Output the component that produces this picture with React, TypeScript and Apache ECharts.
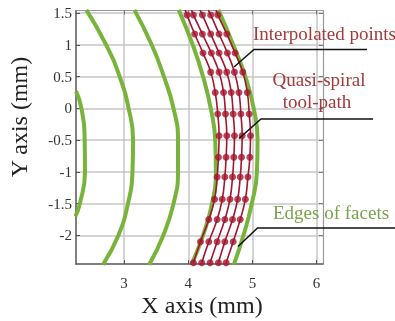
import React, { useEffect, useRef } from "react";
import * as echarts from "echarts";

const X_MIN = 2.25;
const X_MAX = 6.1;
const Y_MIN = -2.45;
const Y_MAX = 1.54;
const X_TICKS = [3, 4, 5, 6];
const Y_TICKS = [-2, -1.5, -1, -0.5, 0, 0.5, 1, 1.5];

// Edges of facets (green arcs), [x, y]
const GREEN_1 = [[2.25, 0.27], [2.335, 0], [2.385, -0.5], [2.39, -1], [2.31, -1.5], [2.24, -1.7]];
const GREEN_2 = [[2.41, 1.55], [2.72, 1], [2.93, 0.5], [3.07, 0], [3.14, -0.5], [3.13, -1], [3.06, -1.5], [2.91, -2], [2.67, -2.46]];
const GREEN_3 = [[3.16, 1.55], [3.43, 1], [3.62, 0.5], [3.77, 0], [3.84, -0.5], [3.84, -1], [3.77, -1.5], [3.61, -2], [3.39, -2.46]];
const GREEN_4 = [[3.85, 1.55], [4.07, 1], [4.23, 0.5], [4.35, 0], [4.42, -0.5], [4.43, -1], [4.37, -1.5], [4.23, -2], [4.05, -2.46]];
const GREEN_5 = [[4.47, 1.55], [4.7, 1], [4.89, 0.5], [5.02, 0], [5.08, -0.5], [5.07, -1], [4.99, -1.5], [4.86, -2], [4.71, -2.46]];

// Quasi-spiral tool path (red), y levels of interpolated points and x of each pass
const RED_Y = [1.55, 1.47, 1.17, 0.87, 0.57, 0.25, -0.09, -0.43, -0.77, -1.08, -1.43, -1.75, -2.1, -2.43];
const RED_X_1 = [3.95, 3.98, 4.1, 4.23, 4.35, 4.42, 4.46, 4.48, 4.47, 4.45, 4.41, 4.32, 4.19, 4.08];
const RED_X_2 = [4.05, 4.08, 4.22, 4.36, 4.48, 4.55, 4.58, 4.6, 4.59, 4.57, 4.53, 4.45, 4.32, 4.21];
const RED_X_3 = [4.18, 4.22, 4.35, 4.48, 4.6, 4.67, 4.7, 4.72, 4.71, 4.69, 4.65, 4.57, 4.45, 4.34];
const RED_X_4 = [4.31, 4.35, 4.48, 4.61, 4.72, 4.79, 4.82, 4.84, 4.83, 4.81, 4.77, 4.69, 4.57, 4.47];
const RED_X_5 = [4.43, 4.46, 4.6, 4.73, 4.85, 4.92, 4.95, 4.97, 4.96, 4.93, 4.89, 4.81, 4.7, 4.59];

const GREEN = "#78b43c";
const RED = "#a5142e";
const SERIF = "Liberation Serif";

export default function App() {
  const ref = useRef<HTMLDivElement>(null);
  useEffect(() => {
    if (!ref.current) return;
    const chart = echarts.init(ref.current, null, { renderer: "svg" });
    const greens = [GREEN_1, GREEN_2, GREEN_3, GREEN_4, GREEN_5].map((d) => ({
      type: "line",
      data: d,
      smooth: 0.5,
      symbol: "none",
      lineStyle: { color: GREEN, width: 4 },
      z: 2,
    }));
    const reds: any[] = [];
    [RED_X_1, RED_X_2, RED_X_3, RED_X_4, RED_X_5].forEach((xs) => {
      const pts = xs.map((x, i) => [x, RED_Y[i]]);
      reds.push({
        type: "line",
        data: pts,
        smooth: 0.5,
        symbol: "none",
        lineStyle: { color: RED, width: 1.6 },
        z: 3,
      });
      reds.push({
        type: "scatter",
        data: pts.slice(1),
        symbolSize: 7,
        itemStyle: { color: RED },
        z: 4,
      });
    });
    const labelStyle = { fontFamily: SERIF, fontSize: 15, color: "#333" };
    chart.setOption({
      animation: false,
      grid: { left: 76, right: 72, top: 10.5, bottom: 57, show: false },
      xAxis: [
        {
          type: "value",
          min: X_MIN,
          max: X_MAX,
          axisLine: { show: true, onZero: false, lineStyle: { color: "#555", width: 1.5 } },
          axisTick: { show: true, inside: true, length: 4, customValues: X_TICKS, lineStyle: { color: "#555" } },
          axisLabel: { customValues: X_TICKS, margin: 11, ...labelStyle },
          splitLine: { show: true, lineStyle: { color: "#c6c6c6", width: 1.5 } },
        },
        {
          type: "value",
          position: "top",
          min: X_MIN,
          max: X_MAX,
          axisLine: { show: true, onZero: false, lineStyle: { color: "#999", width: 1.2 } },
          axisTick: { show: true, inside: true, length: 4, customValues: X_TICKS, lineStyle: { color: "#777" } },
          axisLabel: { show: false },
          splitLine: { show: false },
        },
      ],
      yAxis: [
        {
          type: "value",
          min: Y_MIN,
          max: Y_MAX,
          axisLine: { show: true, onZero: false, lineStyle: { color: "#555", width: 1.5 } },
          axisTick: { show: true, inside: true, length: 4, customValues: Y_TICKS, lineStyle: { color: "#555" } },
          axisLabel: { customValues: Y_TICKS, margin: 4, ...labelStyle },
          splitLine: { show: true, lineStyle: { color: "#c6c6c6", width: 1.5 } },
        },
        {
          type: "value",
          position: "right",
          min: Y_MIN,
          max: Y_MAX,
          axisLine: { show: true, onZero: false, lineStyle: { color: "#999", width: 1.2 } },
          axisTick: { show: true, inside: true, length: 4, customValues: Y_TICKS, lineStyle: { color: "#777" } },
          axisLabel: { show: false },
          splitLine: { show: false },
        },
      ],
      series: [...greens, ...reds],
      graphic: [
        {
          type: "text",
          x: 202,
          y: 305,
          style: { text: "X axis (mm)", font: `24px "${SERIF}"`, fill: "#222", textAlign: "center", textVerticalAlign: "middle" },
        },
        {
          type: "text",
          x: 19,
          y: 117,
          rotation: Math.PI / 2,
          style: { text: "Y axis (mm)", font: `24px "${SERIF}"`, fill: "#222", textAlign: "center", textVerticalAlign: "middle" },
        },
        {
          type: "text",
          x: 253,
          y: 43,
          style: { text: "Interpolated points", font: `19px "${SERIF}"`, fill: "#a23a3c", textAlign: "left", textVerticalAlign: "bottom" },
          z: 10,
        },
        {
          type: "text",
          x: 319,
          y: 89,
          style: { text: "Quasi-spiral", font: `19px "${SERIF}"`, fill: "#a23a3c", textAlign: "center", textVerticalAlign: "bottom" },
          z: 10,
        },
        {
          type: "text",
          x: 317,
          y: 111,
          style: { text: "tool-path", font: `19px "${SERIF}"`, fill: "#a23a3c", textAlign: "center", textVerticalAlign: "bottom" },
          z: 10,
        },
        {
          type: "text",
          x: 273,
          y: 222,
          style: { text: "Edges of facets", font: `19px "${SERIF}"`, fill: "#7aa24a", textAlign: "left", textVerticalAlign: "bottom" },
          z: 10,
        },
        {
          type: "polyline",
          shape: { points: [[234, 67], [254, 49.5], [367, 49.5]] },
          style: { stroke: "#111", lineWidth: 1.5, fill: "none" },
          z: 10,
        },
        {
          type: "polyline",
          shape: { points: [[239, 138.5], [261, 119], [373, 119]] },
          style: { stroke: "#111", lineWidth: 1.5, fill: "none" },
          z: 10,
        },
        {
          type: "polyline",
          shape: { points: [[238, 246.5], [257.5, 228], [396, 228]] },
          style: { stroke: "#111", lineWidth: 1.5, fill: "none" },
          z: 10,
        },
      ],
    });
    return () => chart.dispose();
  }, []);
  return <div ref={ref} style={{ position: "fixed", left: 0, top: 0, width: 395, height: 321 }} />;
}
